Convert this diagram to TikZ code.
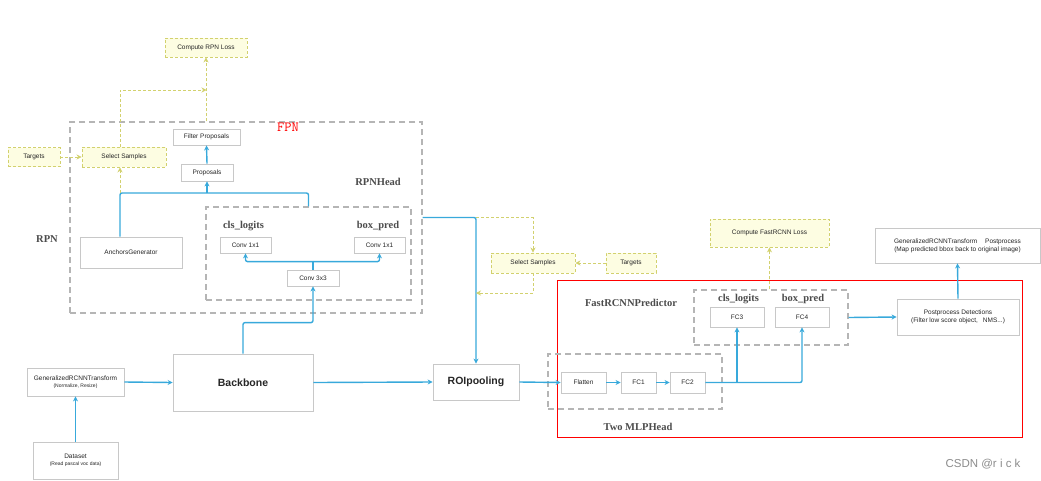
\documentclass[tikz,border=0pt]{standalone}
\usepackage{fontspec}
\setmainfont{Liberation Sans}
\newfontfamily\serifbf{Liberation Serif}
\usetikzlibrary{arrows.meta,calc}
\definecolor{lblue}{HTML}{38A9DB}
\definecolor{yline}{HTML}{D2D16E}
\definecolor{yfill}{HTML}{FDFDE2}
\definecolor{gdash}{HTML}{B5B5B5}
\definecolor{nborder}{HTML}{C8C8C8}
\definecolor{txt}{HTML}{262626}
\newcommand\mysmall{\fontsize{6.5}{8}\selectfont}
\newcommand\mytiny{\fontsize{5}{6}\selectfont}
\newcommand\mybig{\fontsize{10.5}{12}\selectfont\bfseries}
\newcommand\myserif{\serifbf\fontsize{10.5}{12}\selectfont\bfseries}
\tikzset{
  nbox/.style={draw=nborder, line width=0.8pt, fill=white, inner sep=0pt, text=txt, font=\mysmall, align=center},
  ybox/.style={draw=yline, dash pattern=on 3pt off 2pt, line width=0.9pt, fill=yfill, inner sep=0pt, text=txt, font=\mysmall, align=center},
  gbox/.style={draw=gdash, dash pattern=on 6pt off 4pt, line width=1.4pt, inner sep=0pt},
  barr/.style={draw=lblue, line width=1.4pt, rounded corners=2pt, -{Stealth[length=5pt,width=5pt]}},
  bline/.style={draw=lblue, line width=1.4pt, rounded corners=2pt},
  yarr/.style={draw=yline, line width=1pt, dash pattern=on 3pt off 2pt, -{Stealth[length=5pt,width=5pt]}},
  glabel/.style={font=\myserif, text=black!70},
}
\begin{document}
\begin{tikzpicture}[x=1pt,y=-1pt]
\useasboundingbox[fill=white] (0,0) rectangle (1041,480);

% containers
\node[gbox, minimum width=352, minimum height=191] (rpnbox) at (246,217.5) {};
\node[gbox, minimum width=205, minimum height=93] (headbox) at (308.5,253.5) {};
\node[draw=red, line width=1pt, inner sep=0pt, minimum width=465, minimum height=157] (redbox) at (789.5,358.5) {};
\node[gbox, minimum width=154, minimum height=55] (predbox) at (771,317.5) {};
\node[gbox, minimum width=174, minimum height=55] (mlpbox) at (635,381.5) {};

% labels
\node[font=\ttfamily\fontsize{14}{14}\selectfont, text=red, inner sep=0pt] (fpnlbl) at (288,127) {FPN};
\node[glabel] (rpnheadlbl) at (378,182) {RPNHead};
\node[glabel] (rpnlbl) at (47,239) {RPN};
\node[glabel] (clsl) at (243.5,226) {cls\_logits};
\node[glabel] (boxl) at (378,226) {box\_pred};
\node[glabel] (predlbl) at (631,303) {FastRCNNPredictor};
\node[glabel] (clsp) at (738.5,299) {cls\_logits};
\node[glabel] (boxp) at (803,299) {box\_pred};
\node[glabel] (mlplbl) at (638,427) {Two MLPHead};
\node[font=\fontsize{11.5}{12}\selectfont, text=black!45] (wm) at (983,464) {CSDN @r i c k};

% yellow nodes
\node[ybox, minimum width=82, minimum height=19] (rpnloss) at (206,47.5) {Compute RPN Loss};
\node[ybox, minimum width=52, minimum height=19] (tgtL) at (34,157) {Targets};
\node[ybox, minimum width=84, minimum height=20] (selL) at (124,157) {Select Samples};
\node[ybox, minimum width=84, minimum height=20] (selR) at (533,263) {Select Samples};
\node[ybox, minimum width=50, minimum height=20] (tgtR) at (631,263) {Targets};
\node[ybox, minimum width=119, minimum height=28] (frloss) at (769.5,233) {Compute FastRCNN Loss};

% plain nodes
\node[nbox, minimum width=67, minimum height=16] (filt) at (206.5,137) {Filter Proposals};
\node[nbox, minimum width=52, minimum height=17] (props) at (207,172.5) {Proposals};
\node[nbox, minimum width=102, minimum height=31] (anchors) at (131,252.5) {AnchorsGenerator};
\node[nbox, minimum width=51, minimum height=16] (c11l) at (245.5,245) {Conv 1x1};
\node[nbox, minimum width=51, minimum height=16] (c11r) at (379.5,245) {Conv 1x1};
\node[nbox, minimum width=52, minimum height=16] (c33) at (313,278) {Conv 3x3};
\node[nbox, minimum width=140, minimum height=57, font=\mybig] (backbone) at (243,382.5) {Backbone};
\node[nbox, minimum width=86, minimum height=36, font=\mybig] (roi) at (476,382) {ROIpooling};
\node[nbox, minimum width=97, minimum height=28] (trans) at (75.5,382) {GeneralizedRCNNTransform\\[-1pt]{\mytiny (Normalize, Resize)}};
\node[nbox, minimum width=85, minimum height=37] (dataset) at (75.5,460.5) {Dataset\\[-1pt]{\mytiny (Read pascal voc data)}};
\node[nbox, minimum width=45, minimum height=21] (flatten) at (583.5,382.5) {Flatten};
\node[nbox, minimum width=35, minimum height=21] (fc1) at (638.5,382.5) {FC1};
\node[nbox, minimum width=35, minimum height=21] (fc2) at (687.5,382.5) {FC2};
\node[nbox, minimum width=54, minimum height=20] (fc3) at (737,317) {FC3};
\node[nbox, minimum width=54, minimum height=20] (fc4) at (802,317) {FC4};
\node[nbox, minimum width=122, minimum height=36] (post) at (958,317) {Postprocess Detections\\(Filter low score object,\hspace{5pt}NMS...)};
\node[nbox, minimum width=165, minimum height=35] (gpost) at (957.5,245.5) {GeneralizedRCNNTransform\hspace{8pt}Postprocess\\(Map predicted bbox back to original image)};

% coordinates
\coordinate (ja) at (120,193);
\coordinate (jy) at (206.5,90);
\coordinate (jr) at (roi.north |- rpnbox.east);
\coordinate (jr2) at (476,293);

% blue connectors
\draw[barr] (dataset.north) -- (trans.south);
\draw[barr] (trans.east) -- (backbone.west);
\draw[barr] (backbone.east) -- (roi.west);
\draw[barr] (backbone.north) -- ++(0,-31) -| (c33.south);
\draw[bline] (c33.north) -- ++(0,-8) coordinate (j1);
\draw[barr] (j1) -| (c11l.south);
\draw[barr] (j1) -| (c11r.south);
\draw[bline] (headbox.north) |- (ja) -- (ja |- anchors.north);
\draw[barr] (props.south |- ja) -- (props.south);
\draw[barr] (props.north) -- (filt.south);
\draw[barr] (rpnbox.east) -| (roi.north);
\draw[barr] (roi.east) -- (flatten.west);
\draw[barr] (flatten.east) -- (fc1.west);
\draw[barr] (fc1.east) -- (fc2.west);
\draw[barr] (fc2.east) -| (fc4.south);
\draw[barr] (fc3.south |- fc2.east) -- (fc3.south);
\draw[barr] (predbox.east) -- (post.west);
\draw[barr] (post.north) -- (gpost.south);

% yellow connectors
\draw[yarr] (tgtL.east) -- (selL.west);
\draw[yarr] (ja) -- (ja |- selL.south);
\draw[yarr] (ja |- selL.north) |- (jy);
\draw[yarr] (rpnloss.south |- rpnbox.north) -- (rpnloss.south);
\draw[yarr] (jr) -| (selR.north);
\draw[yarr] (tgtR.west) -- (selR.east);
\draw[yarr] (selR.south) |- (jr2);
\draw[yarr] (frloss.south |- predbox.north) -- (frloss.south);
\end{tikzpicture}
\end{document}
